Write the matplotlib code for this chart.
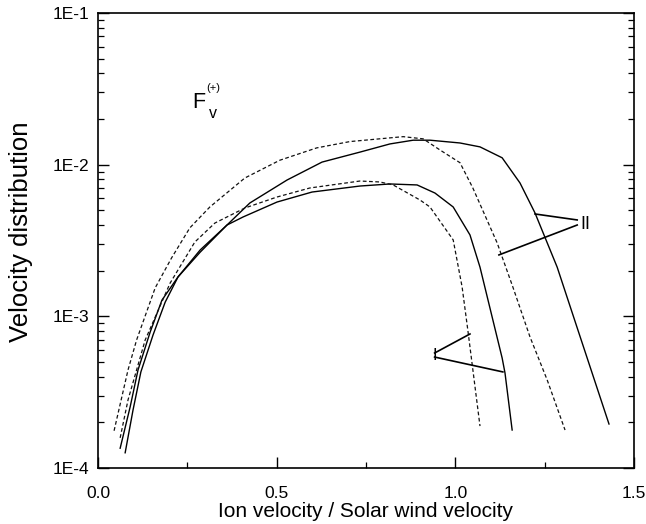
import matplotlib
matplotlib.use("Agg")
import matplotlib.pyplot as plt
from matplotlib.ticker import FixedLocator, LogLocator, NullFormatter, FixedFormatter

plt.rcParams['font.family'] = ['Liberation Sans', 'DejaVu Sans']

# ---- data ----
solid_II_x = [0.076, 0.098, 0.120, 0.154, 0.188, 0.224, 0.286, 0.361, 0.425, 0.529, 0.627,
              0.733, 0.817, 0.882, 0.929, 1.013, 1.069, 1.131, 1.181, 1.223, 1.285, 1.343, 1.430]
solid_II_y = [1.26e-4, 2.41e-4, 4.30e-4, 7.53e-4, 1.24e-3, 1.82e-3, 2.74e-3, 4.00e-3, 5.59e-3,
              7.92e-3, 1.04e-2, 1.21e-2, 1.37e-2, 1.45e-2, 1.45e-2, 1.39e-2, 1.31e-2, 1.11e-2,
              7.57e-3, 4.80e-3, 2.11e-3, 8.13e-4, 1.95e-4]

solid_I_x = [0.062, 0.090, 0.112, 0.146, 0.179, 0.224, 0.286, 0.361, 0.406, 0.501, 0.599,
             0.733, 0.817, 0.893, 0.943, 0.994, 1.041, 1.069, 1.131, 1.139, 1.159]
solid_I_y = [1.35e-4, 2.53e-4, 4.43e-4, 7.88e-4, 1.28e-3, 1.82e-3, 2.65e-3, 4.00e-3, 4.52e-3,
             5.67e-3, 6.60e-3, 7.23e-3, 7.46e-3, 7.35e-3, 6.50e-3, 5.26e-3, 3.44e-3, 2.11e-3,
             5.31e-4, 4.23e-4, 1.78e-4]

dashed_II_x = [0.045, 0.084, 0.108, 0.160, 0.206, 0.257, 0.313, 0.411, 0.509, 0.612, 0.705,
               0.854, 0.910, 0.957, 1.013, 1.049, 1.117, 1.161, 1.209, 1.257, 1.307]
dashed_II_y = [1.76e-4, 4.43e-4, 6.98e-4, 1.54e-3, 2.43e-3, 3.83e-3, 5.26e-3, 8.17e-3, 1.07e-2,
               1.29e-2, 1.42e-2, 1.53e-2, 1.48e-2, 1.25e-2, 1.03e-2, 7.02e-3, 3.05e-3, 1.56e-3,
               7.31e-4, 3.81e-4, 1.78e-4]

dashed_I_x = [0.062, 0.084, 0.132, 0.202, 0.271, 0.327, 0.411, 0.501, 0.593, 0.733, 0.789,
              0.826, 0.901, 0.929, 0.994, 1.019, 1.036, 1.069]
dashed_I_y = [1.58e-4, 2.81e-4, 6.98e-4, 1.66e-3, 3.09e-3, 4.12e-3, 5.18e-3, 6.12e-3, 7.02e-3,
              7.80e-3, 7.69e-3, 7.35e-3, 5.85e-3, 5.26e-3, 3.19e-3, 1.56e-3, 7.77e-4, 1.89e-4]

x_ticks = [0.0, 0.5, 1.0, 1.5]
x_ticklabels = ["0.0", "0.5", "1.0", "1.5"]
y_ticks = [1e-4, 1e-3, 1e-2, 1e-1]
y_ticklabels = ["1E-4", "1E-3", "1E-2", "1E-1"]

# ---- figure ----
W, H = 646, 524
fig = plt.figure(figsize=(W / 100, H / 100), dpi=100)
ax = fig.add_axes([98 / W, 1 - 468 / H, (634 - 98) / W, (468 - 13) / H])

dash = (0, (3.0, 2.0))
ax.plot(solid_II_x, solid_II_y, color='black', lw=1.0)
ax.plot(solid_I_x, solid_I_y, color='black', lw=1.0)
ax.plot(dashed_II_x, dashed_II_y, color='#111111', lw=0.9, linestyle=dash)
ax.plot(dashed_I_x, dashed_I_y, color='#111111', lw=0.9, linestyle=dash)

ax.set_yscale('log')
ax.set_xlim(0, 1.5)
ax.set_ylim(1e-4, 1e-1)

ax.xaxis.set_major_locator(FixedLocator(x_ticks))
ax.xaxis.set_major_formatter(FixedFormatter(x_ticklabels))
ax.xaxis.set_minor_locator(FixedLocator([0.25, 0.75, 1.25]))
ax.yaxis.set_major_locator(FixedLocator(y_ticks))
ax.yaxis.set_major_formatter(FixedFormatter(y_ticklabels))
ax.yaxis.set_minor_locator(LogLocator(base=10, subs=range(2, 10)))
ax.yaxis.set_minor_formatter(NullFormatter())

ax.tick_params(axis='both', which='both', direction='in', top=False, right=True,
               labelsize=12.5, colors='black')
ax.tick_params(axis='y', which='major', length=8, width=1.0, pad=6)
ax.tick_params(axis='y', which='minor', length=4.5, width=0.9)
ax.tick_params(axis='x', which='major', length=8, width=1.0, pad=13)
ax.tick_params(axis='x', which='minor', length=4.5, width=0.9)
for s in ax.spines.values():
    s.set_linewidth(1.2)

ax.set_xlabel("Ion velocity / Solar wind velocity", fontsize=15)
ax.xaxis.set_label_coords(0.5, -0.074)
ax.set_ylabel("Velocity distribution", fontsize=18.5)
ax.yaxis.set_label_coords(-0.122, 0.52)

# ---- annotations ----
ax.plot([1.223, 1.341], [4.73e-3, 4.32e-3], color='black', lw=1.2)
ax.plot([1.122, 1.341], [2.54e-3, 4.00e-3], color='black', lw=1.2)
ax.text(1.350, 4.06e-3, "II", fontsize=13, ha='left', va='center')

ax.plot([1.041, 0.942], [7.65e-4, 5.73e-4], color='black', lw=1.2)
ax.plot([1.133, 0.942], [4.30e-4, 5.39e-4], color='black', lw=1.2)
ax.text(0.942, 5.5e-4, "I", fontsize=12, ha='center', va='center')

# F_v^(+) label
fig.text(192 / W, 1 - 108 / H, "F", fontsize=15.5, ha='left', va='baseline')
fig.text(209 / W, 1 - 118 / H, "v", fontsize=11.5, ha='left', va='baseline')
fig.text(206 / W, 1 - 91 / H, "(+)", fontsize=8, ha='left', va='baseline')

fig.savefig("out.png", dpi=100)
